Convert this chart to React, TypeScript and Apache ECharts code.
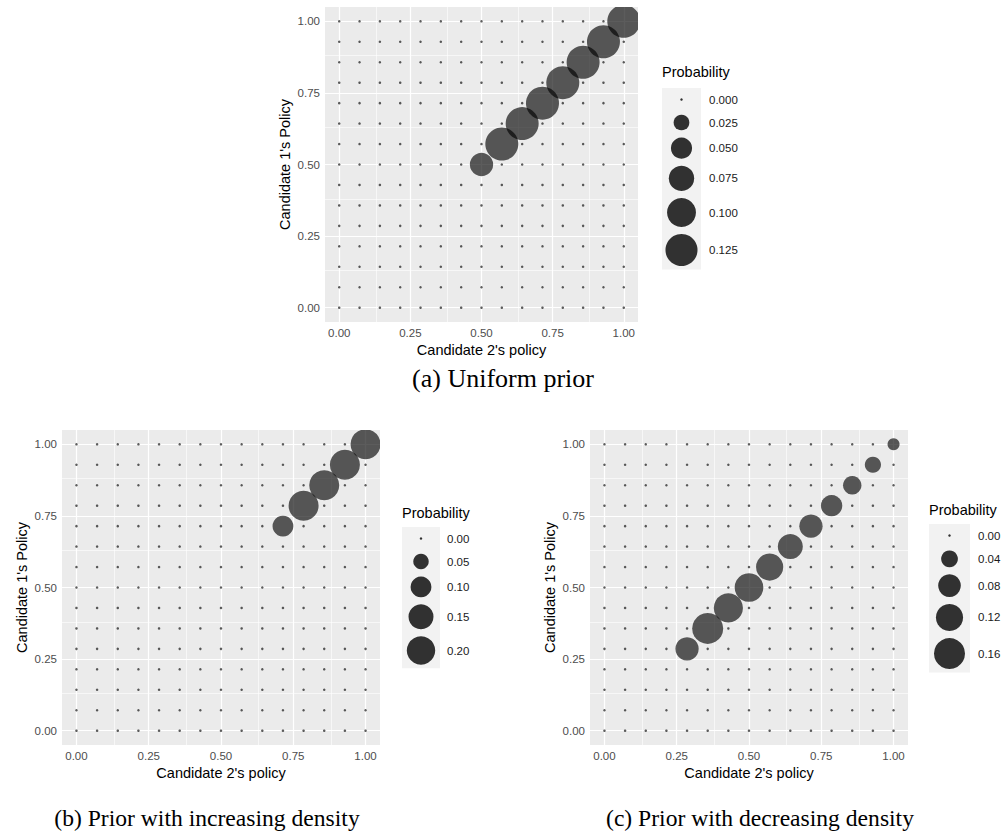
import React, { useEffect, useRef } from "react";
import * as echarts from "echarts";

// ---- data ----
const POLICY = [0, 0.0714, 0.1429, 0.2143, 0.2857, 0.3571, 0.4286, 0.5, 0.5714, 0.6429, 0.7143, 0.7857, 0.8571, 0.9286, 1];
// probability on the diagonal (candidate 1 = candidate 2 = POLICY[i]); off-diagonal cells are 0
const PROB_A = [0, 0, 0, 0, 0, 0, 0, 0.062, 0.1333, 0.1333, 0.1333, 0.1333, 0.1333, 0.1333, 0.1333];
const PROB_B = [0, 0, 0, 0, 0, 0, 0, 0, 0, 0, 0.1, 0.225, 0.225, 0.225, 0.225];
const PROB_C = [0, 0, 0, 0, 0.085, 0.16, 0.14, 0.135, 0.12, 0.1, 0.085, 0.07, 0.05, 0.037, 0.018];

const LEGEND_A = [0, 0.025, 0.05, 0.075, 0.1, 0.125];
const LEGEND_B = [0, 0.05, 0.1, 0.15, 0.2];
const LEGEND_C = [0, 0.04, 0.08, 0.12, 0.16];

const AXIS_TICKS = [0, 0.25, 0.5, 0.75, 1];
const MINOR_TICKS = [0.125, 0.375, 0.625, 0.875];

const X_TITLE = "Candidate 2's policy";
const Y_TITLE = "Candidate 1's Policy";
const LEGEND_TITLE = "Probability";
const CAPTIONS = ["(a) Uniform prior", "(b) Prior with increasing density", "(c) Prior with decreasing density"];

// ---- layout / style ----
const SANS = "Liberation Sans, Arial, Helvetica, sans-serif";
const SERIF = "Liberation Serif, Times New Roman, serif";
const POINT_COLOR = "rgba(0,0,0,0.8)";
const DMIN = 2.5;

const PANELS = [
  {
    probs: PROB_A, legend: LEGEND_A, digits: 3,
    left: 325, top: 7, width: 313, height: 315, dmax: 33,
    leg: { x: 662, titleY: 72, boxTop: 88, boxW: 39, labelX: 709 },
    caption: { x: 503, y: 378, size: 26 },
  },
  {
    probs: PROB_B, legend: LEGEND_B, digits: 2,
    left: 62, top: 430, width: 318, height: 315, dmax: 30,
    leg: { x: 402, titleY: 513, boxTop: 527, boxW: 38, labelX: 447 },
    caption: { x: 207, y: 818, size: 23.6 },
  },
  {
    probs: PROB_C, legend: LEGEND_C, digits: 2,
    left: 590, top: 430, width: 318, height: 315, dmax: 31,
    leg: { x: 929, titleY: 510, boxTop: 524, boxW: 41, labelX: 978 },
    caption: { x: 760, y: 818, size: 23.6 },
  },
];

const sizeFor = (v: number, max: number, dmax: number) => DMIN + (dmax - DMIN) * Math.sqrt(Math.max(0, v) / max);

export default function App() {
  const ref = useRef<HTMLDivElement>(null);

  useEffect(() => {
    document.body.style.margin = "0";
    if (!ref.current) return;
    const chart = echarts.init(ref.current, undefined, { renderer: "svg" });

    const grid: any[] = [];
    const xAxis: any[] = [];
    const yAxis: any[] = [];
    const series: any[] = [];
    const graphic: any[] = [];

    PANELS.forEach((p, k) => {
      const max = Math.max(...p.probs);
      grid.push({ left: p.left, top: p.top, width: p.width, height: p.height, show: true, backgroundColor: "#ebebeb", borderWidth: 0 });
      const axisCommon = {
        type: "value",
        min: -0.05,
        max: 1.05,
        gridIndex: k,
        axisLine: { show: false },
        splitLine: { show: false },
        axisTick: { show: true, length: 3, customValues: AXIS_TICKS, lineStyle: { color: "#333", width: 1 } },
        axisLabel: {
          show: true, customValues: AXIS_TICKS, margin: 5, color: "#4d4d4d",
          fontSize: 11.5, fontFamily: SANS,
          formatter: (v: number) => v.toFixed(2),
        },
      };
      xAxis.push({ ...axisCommon });
      yAxis.push({ ...axisCommon });

      const lines: any[] = [];
      MINOR_TICKS.forEach((v) => {
        lines.push({ xAxis: v, lineStyle: { width: 0.6 } });
        lines.push({ yAxis: v, lineStyle: { width: 0.6 } });
      });
      AXIS_TICKS.forEach((v) => {
        lines.push({ xAxis: v, lineStyle: { width: 1.2 } });
        lines.push({ yAxis: v, lineStyle: { width: 1.2 } });
      });
      series.push({
        type: "scatter", xAxisIndex: k, yAxisIndex: k, data: [], z: 1, silent: true,
        markLine: {
          z: 1, silent: true, symbol: "none", animation: false, label: { show: false },
          lineStyle: { color: "#ffffff", type: "solid" },
          emphasis: { disabled: true },
          data: lines,
        },
      });

      const pts: number[][] = [];
      POLICY.forEach((x, i) => {
        POLICY.forEach((y, j) => {
          pts.push([x, y, i === j ? p.probs[i] : 0]);
        });
      });
      series.push({
        type: "scatter", xAxisIndex: k, yAxisIndex: k, data: pts, z: 10, silent: true,
        symbol: "circle",
        symbolSize: (v: number[]) => sizeFor(v[2], max, p.dmax),
        itemStyle: { color: POINT_COLOR },
      });

      // white masks so marks are clipped at the panel edge (top and right)
      graphic.push({
        type: "rect", z: 100, silent: true,
        shape: { x: p.left, y: p.top - 20, width: p.width + 22, height: 20 },
        style: { fill: "#ffffff" },
      });
      graphic.push({
        type: "rect", z: 100, silent: true,
        shape: { x: p.left + p.width, y: p.top - 20, width: 20, height: p.height + 20 },
        style: { fill: "#ffffff" },
      });

      // axis titles
      graphic.push({
        type: "text", x: p.left + p.width / 2, y: p.top + p.height + 28,
        style: { text: X_TITLE, fill: "#000", font: `14.5px ${SANS}`, align: "center", verticalAlign: "middle" },
      });
      graphic.push({
        type: "text", x: p.left - 40, y: p.top + p.height / 2, rotation: Math.PI / 2,
        style: { text: Y_TITLE, fill: "#000", font: `14.5px ${SANS}`, align: "center", verticalAlign: "middle" },
      });

      // legend
      const L = p.leg;
      graphic.push({
        type: "text", x: L.x, y: L.titleY,
        style: { text: LEGEND_TITLE, fill: "#000", font: `14.5px ${SANS}`, align: "left", verticalAlign: "middle" },
      });
      const diams = p.legend.map((v) => sizeFor(v, max, p.dmax));
      const heights = diams.map((d) => Math.max(23, d + 7));
      const total = heights.reduce((a, b) => a + b, 0);
      graphic.push({
        type: "rect", shape: { x: L.x, y: L.boxTop, width: L.boxW, height: total },
        style: { fill: "#f2f2f2" }, z: 0,
      });
      let cy = L.boxTop;
      p.legend.forEach((v, i) => {
        const c = cy + heights[i] / 2;
        graphic.push({
          type: "circle", shape: { cx: L.x + L.boxW / 2, cy: c, r: diams[i] / 2 },
          style: { fill: POINT_COLOR }, z: 1,
        });
        graphic.push({
          type: "text", x: L.labelX, y: c,
          style: { text: v.toFixed(p.digits), fill: "#1a1a1a", font: `11.5px ${SANS}`, align: "left", verticalAlign: "middle" },
        });
        cy += heights[i];
      });

      // caption
      graphic.push({
        type: "text", x: p.caption.x, y: p.caption.y,
        style: { text: CAPTIONS[k], fill: "#000", font: `${p.caption.size}px ${SERIF}`, align: "center", verticalAlign: "middle" },
      });
    });

    chart.setOption({
      animation: false,
      backgroundColor: "#ffffff",
      grid, xAxis, yAxis, series, graphic,
    });

    return () => chart.dispose();
  }, []);

  return <div ref={ref} style={{ width: 1007, height: 840 }} />;
}
